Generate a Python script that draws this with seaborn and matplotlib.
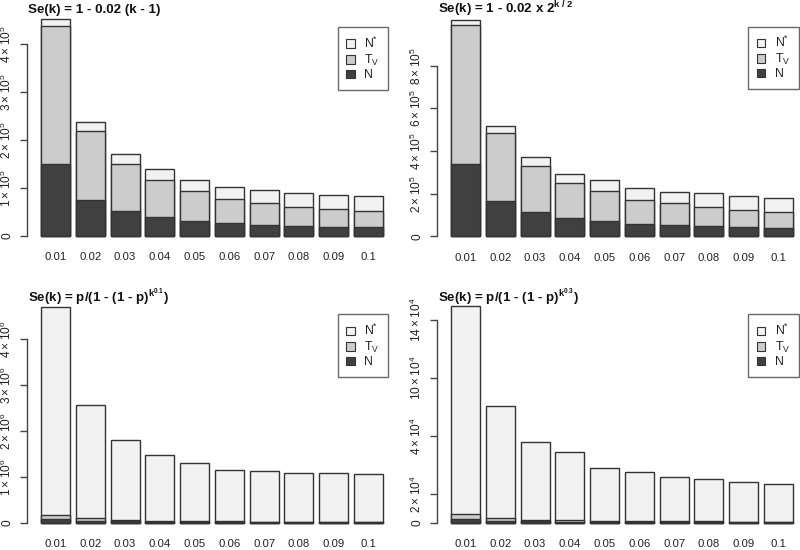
import numpy as np
import pandas as pd
import matplotlib
matplotlib.use("Agg")
import matplotlib.pyplot as plt
from matplotlib.patches import Patch
import seaborn as sns

sns.set_style("white")
plt.rcParams["font.family"] = ["Liberation Sans", "DejaVu Sans"]
plt.rcParams["mathtext.fontset"] = "custom"
plt.rcParams["mathtext.rm"] = "Liberation Sans"
plt.rcParams["mathtext.it"] = "Liberation Sans:italic"
plt.rcParams["mathtext.bf"] = "Liberation Sans:bold"

# ---------------- data ----------------
categories = ["0.01", "0.02", "0.03", "0.04", "0.05", "0.06", "0.07", "0.08", "0.09", "0.1"]

# panel 1: Se(k) = 1 - 0.02 (k - 1)   (units of 1e5)
p1_scale = 1e5
p1_N = [1.50, 0.757, 0.52, 0.40, 0.32, 0.27, 0.236, 0.21, 0.19, 0.18]
p1_Tv = [2.87, 1.433, 0.99, 0.77, 0.61, 0.51, 0.454, 0.39, 0.37, 0.34]
p1_Nstar = [0.15, 0.19, 0.20, 0.23, 0.23, 0.25, 0.26, 0.29, 0.29, 0.31]
p1_ticks = [0, 1, 2, 3, 4]
p1_ticklabels = ["0", "1\u2009×\u200910$^{5}$", "2\u2009×\u200910$^{5}$", "3\u2009×\u200910$^{5}$", "4\u2009×\u200910$^{5}$"]

# panel 2: Se(k) = 1 - 0.02 x 2^(k/2)   (units of 1e5)
p2_scale = 1e5
p2_N = [3.39, 1.66, 1.14, 0.86, 0.73, 0.58, 0.52, 0.48, 0.42, 0.39]
p2_Tv = [6.50, 3.17, 2.17, 1.64, 1.395, 1.14, 1.03, 0.91, 0.80, 0.735]
p2_Nstar = [0.25, 0.36, 0.42, 0.44, 0.50, 0.53, 0.54, 0.63, 0.655, 0.655]
p2_ticks = [0, 2, 4, 6, 8]
p2_ticklabels = ["0", "2\u2009×\u200910$^{5}$", "4\u2009×\u200910$^{5}$", "6\u2009×\u200910$^{5}$", "8\u2009×\u200910$^{5}$"]

# panel 3: Se(k) = p/(1-(1-p)^(k^0.1))   (units of 1e6)
p3_scale = 1e6
p3_N = [0.08, 0.05, 0.035, 0.03, 0.025, 0.022, 0.02, 0.019, 0.018, 0.017]
p3_Tv = [0.087, 0.05, 0.035, 0.02, 0.015, 0.012, 0.01, 0.009, 0.008, 0.008]
p3_Nstar = [4.533, 2.46, 1.74, 1.43, 1.26, 1.126, 1.09, 1.062, 1.064, 1.045]
p3_ticks = [0, 1, 2, 3, 4]
p3_ticklabels = ["0", "1\u2009×\u200910$^{6}$", "2\u2009×\u200910$^{6}$", "3\u2009×\u200910$^{6}$", "4\u2009×\u200910$^{6}$"]

# panel 4: Se(k) = p/(1-(1-p)^(k^0.3))   (units of 1e4)
p4_scale = 1e4
p4_N = [0.30, 0.16, 0.11, 0.09, 0.08, 0.07, 0.065, 0.06, 0.055, 0.05]
p4_Tv = [0.30, 0.16, 0.12, 0.08, 0.06, 0.05, 0.045, 0.04, 0.035, 0.03]
p4_Nstar = [14.37, 7.75, 5.38, 4.75, 3.68, 3.40, 3.09, 2.91, 2.74, 2.59]
p4_ticks = [0, 2, 6, 10, 14]
p4_ticklabels = ["0", "2\u2009×\u200910$^{4}$", "4\u2009×\u200910$^{4}$", "10\u2009×\u200910$^{4}$", "14\u2009×\u200910$^{4}$"]

titles = [
    "Se(k) = 1 - 0.02 (k - 1)",
    r"Se(k) = 1 - 0.02 x 2$^{\mathbf{k\ /\ 2}}$",
    r"Se(k) = p/(1 - (1 - p)$^{\mathbf{k^{0.1}}}$)",
    r"Se(k) = p/(1 - (1 - p)$^{\mathbf{k^{0.3}}}$)",
]
legend_labels = [r"N$^{*}$", r"T$_{\mathrm{V}}$", "N"]

# ---------------- style ----------------
C_N = "#404040"
C_TV = "#cccccc"
C_NSTAR = "#f2f2f2"
EDGE = "#333333"
W, H = 800, 550
FS = 8.2
FS_Y = 8.6

fig = plt.figure(figsize=(8, 5.5), dpi=100)


def add_axes_px(x0, y0, x1, y1):
    return fig.add_axes([x0 / W, 1 - y1 / H, (x1 - x0) / W, (y1 - y0) / H])


def draw_panel(ax, N, Tv, Nstar, scale, ticks, ticklabels, title, title_xy, leg_xy):
    N = np.array(N) * scale
    Tv = np.array(Tv) * scale
    Nstar = np.array(Nstar) * scale
    df = pd.DataFrame({"p": categories, "N": N, "mid": N + Tv, "top": N + Tv + Nstar})
    for col, c in [("top", C_NSTAR), ("mid", C_TV), ("N", C_N)]:
        sns.barplot(data=df, x="p", y=col, order=categories, color=c, saturation=1,
                    width=0.833, edgecolor=EDGE, linewidth=1.0, errorbar=None, ax=ax)
    M = df["top"].max()
    ax.set_xlim(-0.819, 9.819)
    ax.set_ylim(-0.04 * M, 1.04 * M)
    ax.set_xlabel("")
    ax.set_ylabel("")
    for s in ["top", "right", "bottom"]:
        ax.spines[s].set_visible(False)
    ax.spines["left"].set_bounds(ticks[0] * scale, ticks[-1] * scale)
    ax.spines["left"].set_color("#444444")
    ax.spines["left"].set_linewidth(1.0)
    ax.set_yticks([t * scale for t in ticks])
    ax.set_yticklabels(ticklabels)
    ax.tick_params(axis="y", length=4.7, width=1.0, color="#444444", pad=4.8,
                   labelsize=FS_Y, labelcolor="#222222", left=True)
    for lab in ax.get_yticklabels():
        lab.set_rotation(90)
        lab.set_va("center")
        lab.set_ha("right")
    ax.tick_params(axis="x", length=0, pad=5.5, labelsize=FS, labelcolor="#222222")
    ax.set_facecolor("none")
    fig.text(title_xy[0] / W, 1 - title_xy[1] / H, title, ha="left", va="baseline",
             fontsize=9.6, fontweight="bold", color="#111111")
    handles = [Patch(facecolor=C_NSTAR, edgecolor=EDGE, linewidth=0.8),
               Patch(facecolor=C_TV, edgecolor=EDGE, linewidth=0.8),
               Patch(facecolor=C_N, edgecolor=EDGE, linewidth=0.8)]
    leg = ax.legend(handles, legend_labels, loc="upper right",
                    bbox_to_anchor=(leg_xy[0] / W, 1 - leg_xy[1] / H),
                    bbox_transform=fig.transFigure, frameon=True, fancybox=False,
                    edgecolor="#444444", borderaxespad=0, handlelength=0.7,
                    handleheight=0.7, handletextpad=0.8, labelspacing=0.12,
                    borderpad=0.7, fontsize=8.8)
    leg.get_frame().set_linewidth(1.0)
    for t in leg.get_texts():
        t.set_color("#222222")


ax1 = add_axes_px(27, 10.4, 397, 244.7)
ax2 = add_axes_px(437, 11.3, 807, 245)
ax3 = add_axes_px(27, 298.2, 397, 531.6)
ax4 = add_axes_px(437, 297.2, 807, 531.6)

draw_panel(ax1, p1_N, p1_Tv, p1_Nstar, p1_scale, p1_ticks, p1_ticklabels, titles[0], (28, 13.5), (388.3, 27.3))
draw_panel(ax2, p2_N, p2_Tv, p2_Nstar, p2_scale, p2_ticks, p2_ticklabels, titles[1], (438, 13.5), (799, 26.7))
draw_panel(ax3, p3_N, p3_Tv, p3_Nstar, p3_scale, p3_ticks, p3_ticklabels, titles[2], (28, 301.5), (388.3, 314.3))
draw_panel(ax4, p4_N, p4_Tv, p4_Nstar, p4_scale, p4_ticks, p4_ticklabels, titles[3], (438, 301.5), (799, 314.3))

fig.savefig("out.png", dpi=100, facecolor="white")
